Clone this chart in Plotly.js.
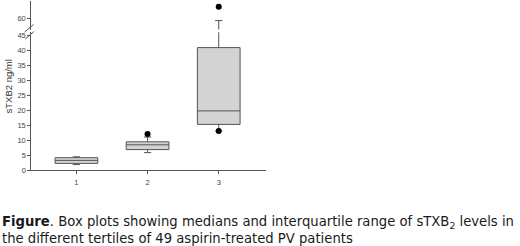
<!DOCTYPE html>
<html>
<head>
<meta charset="utf-8">
<script src="https://cdn.plot.ly/plotly-3.0.1.min.js"></script>
<style>html,body{margin:0;padding:0;background:#fff;}#chart{width:520px;height:246px;}</style>
</head>
<body>
<div id="chart"></div>
<script>
// ---- data ----
const groups      = [1, 2, 3];
const lowerFences = [1.9, 5.9, 13.1];
const q1Values    = [2.3, 6.9, 15.3];
const medians     = [3.3, 8.5, 19.8];
const q3Values    = [4.2, 9.5, 40.9];
const upperFences = [4.5, 11.1, 59.2];
const outlierX    = [2, 3, 3];
const outlierY    = [12.1, 13.1, 63.7];
const tickLabels  = ['1', '2', '3'];
const yTitle = 'sTXB2 ng/ml';
const captionLine1 = '<b>Figure</b>. Box plots showing medians and interquartile range of sTXB<sub>2</sub> levels in';
const captionLine2 = 'the different tertiles of 49 aspirin-treated PV patients';

// ---- layout helpers (pixel -> paper) ----
const W = 520, H = 246;
const px = v => v / W;
const py = v => 1 - v / H;

const boxStyle = {
  type: 'box', x: groups, q1: q1Values, median: medians, q3: q3Values,
  lowerfence: lowerFences, upperfence: upperFences,
  width: 0.6, whiskerwidth: 0.17, boxpoints: false,
  fillcolor: '#d3d3d3', line: {color: '#555555', width: 1},
  hoverinfo: 'skip', showlegend: false
};

const traces = [
  Object.assign({}, boxStyle, {xaxis: 'x', yaxis: 'y'}),
  Object.assign({}, boxStyle, {xaxis: 'x', yaxis: 'y2'}),
  {type: 'scatter', mode: 'markers', x: outlierX, y: outlierY, xaxis: 'x', yaxis: 'y',
   marker: {color: '#000', size: 6}, showlegend: false, hoverinfo: 'skip', cliponaxis: true},
  {type: 'scatter', mode: 'markers', x: outlierX, y: outlierY, xaxis: 'x', yaxis: 'y2',
   marker: {color: '#000', size: 6}, showlegend: false, hoverinfo: 'skip', cliponaxis: true}
];

const tickFont = {family: 'Liberation Sans, Arial, sans-serif', size: 7.5, color: '#444'};

const layout = {
  width: W, height: H,
  margin: {l: 0, r: 0, t: 0, b: 0},
  paper_bgcolor: '#fff', plot_bgcolor: 'rgba(0,0,0,0)',
  showlegend: false,
  xaxis: {
    domain: [px(31.3), px(265.7)], range: [0.366, 3.66], anchor: 'y',
    tickvals: groups, ticktext: tickLabels, ticks: 'outside', ticklen: 3, tickwidth: 1,
    tickcolor: '#555', showline: true, linecolor: '#555', linewidth: 1,
    showgrid: false, zeroline: false, tickfont: tickFont, ticklabelstandoff: 2
  },
  yaxis: {
    domain: [py(170.3), py(32.3)], range: [0, 46], anchor: 'x',
    tickvals: [0,5,10,15,20,25,30,35,40,45], ticks: 'outside', ticklen: 3, tickwidth: 1,
    tickcolor: '#555', showline: true, linecolor: '#555', linewidth: 1,
    showgrid: false, zeroline: false, tickfont: tickFont
  },
  yaxis2: {
    domain: [py(29.5), py(1)], range: [56.27, 65.6], anchor: 'x',
    tickvals: [60], ticks: 'outside', ticklen: 3, tickwidth: 1,
    tickcolor: '#555', showline: true, linecolor: '#555', linewidth: 1,
    showgrid: false, zeroline: false, tickfont: tickFont
  },
  shapes: [
    {type: 'line', xref: 'paper', yref: 'paper', x0: px(24.7), y0: py(32), x1: px(33.5), y1: py(24.5),
     line: {color: '#555', width: 1}},
    {type: 'line', xref: 'paper', yref: 'paper', x0: px(25.3), y0: py(39), x1: px(34), y1: py(31.5),
     line: {color: '#555', width: 1}}
  ],
  annotations: [
    {text: yTitle, xref: 'paper', yref: 'paper', x: px(7.5), y: py(87), textangle: -90,
     showarrow: false, xanchor: 'center', yanchor: 'middle',
     font: {family: 'Liberation Sans, Arial, sans-serif', size: 9.5, color: '#333'}},
    {text: captionLine1, xref: 'paper', yref: 'paper', x: 0, y: py(222.5), xanchor: 'left', yanchor: 'middle',
     showarrow: false, font: {family: 'DejaVu Sans, Verdana, sans-serif', size: 13.2, color: '#1a1a1a'}},
    {text: captionLine2, xref: 'paper', yref: 'paper', x: 0, y: py(238.5), xanchor: 'left', yanchor: 'middle',
     showarrow: false, font: {family: 'DejaVu Sans, Verdana, sans-serif', size: 13.2, color: '#1a1a1a'}}
  ]
};

Plotly.newPlot('chart', traces, layout, {staticPlot: true, displayModeBar: false});
</script>
</body>
</html>
